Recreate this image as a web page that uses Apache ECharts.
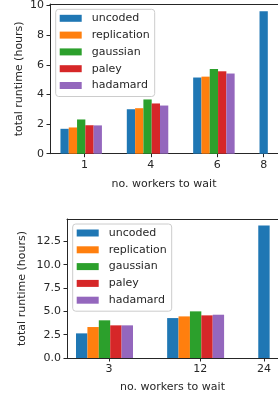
<!DOCTYPE html>
<html><head><meta charset="utf-8">
<script src="https://cdn.jsdelivr.net/npm/echarts@6/dist/echarts.min.js"></script>
<style>html,body{margin:0;padding:0;background:#fff}#c{width:278px;height:398px}</style>
</head><body><div id="c"></div>
<script>
const seriesNames = ['uncoded', 'replication', 'gaussian', 'paley', 'hadamard'];
const colors = ['#1f77b4', '#ff7f0e', '#2ca02c', '#d62728', '#9467bd'];

// top chart
const topCategories = ['1', '4', '6', '8'];
const topUncoded = [1.68, 3.00, 5.14, 9.62];
const topReplication = [1.77, 3.07, 5.20];
const topGaussian = [2.31, 3.66, 5.72];
const topPaley = [1.92, 3.39, 5.56];
const topHadamard = [1.91, 3.25, 5.41];
const topYTicks = [0, 2, 4, 6, 8, 10];

// bottom chart
const botCategories = ['3', '12', '24'];
const botUncoded = [2.64, 4.28, 14.21];
const botReplication = [3.32, 4.46];
const botGaussian = [4.04, 5.00];
const botPaley = [3.50, 4.57];
const botHadamard = [3.50, 4.64];
const botYTicks = [0, 2.5, 5, 7.5, 10, 12.5];

const W = 0.125;          // bar width in group units
const TICK_SHIFT = 0.3;   // tick offset for full groups
const FONT = 'DejaVu Sans';
const FS = 11;
const TXT = '#262626';

const panels = [
  { cats: topCategories, vals: [topUncoded, topReplication, topGaussian, topPaley, topHadamard],
    yTicks: topYTicks, yMax: 10.1, xMin: -0.22, xMax: 3.216, dec: 0,
    grid: { left: 50, top: 3.5, width: 234, height: 150.2 }, yGap: 25.5, xGap: 24.5,
    legend: { left: 55.7, top: 9.3 } },
  { cats: botCategories, vals: [botUncoded, botReplication, botGaussian, botPaley, botHadamard],
    yTicks: botYTicks, yMax: 14.9, xMin: -0.1615, xMax: 2.154, dec: 1,
    grid: { left: 67, top: 219, width: 215, height: 139 }, yGap: 39, xGap: 23.5,
    legend: { left: 72.7, top: 224 } }
];

const option = { animation: false, grid: [], xAxis: [], yAxis: [], series: [], legend: [] };

panels.forEach((p, pi) => {
  option.grid.push(Object.assign({ containLabel: false }, p.grid));
  const tickPos = p.cats.map((c, g) => {
    const n = p.vals.filter(a => a[g] !== undefined).length;
    return n > 1 ? g + TICK_SHIFT : g;
  });
  const labelFor = v => {
    for (let i = 0; i < tickPos.length; i++) if (Math.abs(tickPos[i] - v) < 1e-6) return p.cats[i];
    return '';
  };
  option.xAxis.push({
    type: 'value', gridIndex: pi, min: p.xMin, max: p.xMax, position: 'bottom',
    name: 'no. workers to wait', nameLocation: 'middle', nameGap: p.xGap, nameMoveOverlap: false,
    nameTextStyle: { fontFamily: FONT, fontSize: FS, color: TXT },
    axisLine: { show: true, onZero: false, lineStyle: { color: '#262626', width: 1 } },
    axisTick: { show: true, length: 3.5, customValues: tickPos, lineStyle: { color: '#262626' } },
    axisLabel: { customValues: tickPos, formatter: labelFor, margin: 6,
      fontFamily: FONT, fontSize: FS, color: TXT },
    splitLine: { show: false }
  });
  option.xAxis.push({
    type: 'value', gridIndex: pi, min: p.xMin, max: p.xMax, position: 'top',
    axisLine: { show: true, onZero: false, lineStyle: { color: '#262626', width: 1 } },
    axisTick: { show: false }, axisLabel: { show: false }, splitLine: { show: false }
  });
  option.yAxis.push({
    type: 'value', gridIndex: pi, min: 0, max: p.yMax,
    name: 'total runtime (hours)', nameLocation: 'middle', nameGap: p.yGap, nameRotate: 90,
    nameMoveOverlap: false,
    nameTextStyle: { fontFamily: FONT, fontSize: FS, color: TXT },
    axisLine: { show: true, onZero: false, lineStyle: { color: '#262626', width: 1 } },
    axisTick: { show: true, length: 3.5, customValues: p.yTicks, lineStyle: { color: '#262626' } },
    axisLabel: { customValues: p.yTicks, margin: 6, fontFamily: FONT, fontSize: FS, color: TXT,
      formatter: v => v.toFixed(p.dec) },
    splitLine: { show: false }
  });
  p.vals.forEach((arr, i) => {
    option.series.push({
      type: 'bar', name: seriesNames[i], xAxisIndex: pi * 2, yAxisIndex: pi,
      data: arr.map((v, g) => [g + i * W, v]),
      barWidth: '100%', barGap: '-100%',
      itemStyle: { color: colors[i] }
    });
  });
  option.legend.push({
    orient: 'vertical', left: p.legend.left, top: p.legend.top,
    data: seriesNames, icon: 'rect', itemWidth: 22, itemHeight: 7, itemGap: 4.8,
    padding: [3, 5, 5, 4],
    backgroundColor: 'rgba(255,255,255,0.8)', borderColor: '#cccccc', borderWidth: 1, borderRadius: 3,
    textStyle: { fontFamily: FONT, fontSize: FS, lineHeight: 12, color: TXT, padding: [0, 0, 0, 5] },
    selectedMode: false
  });
});
option.color = colors;

const chart = echarts.init(document.getElementById('c'), null, { renderer: 'canvas' });
chart.setOption(option);
</script>
</body></html>
